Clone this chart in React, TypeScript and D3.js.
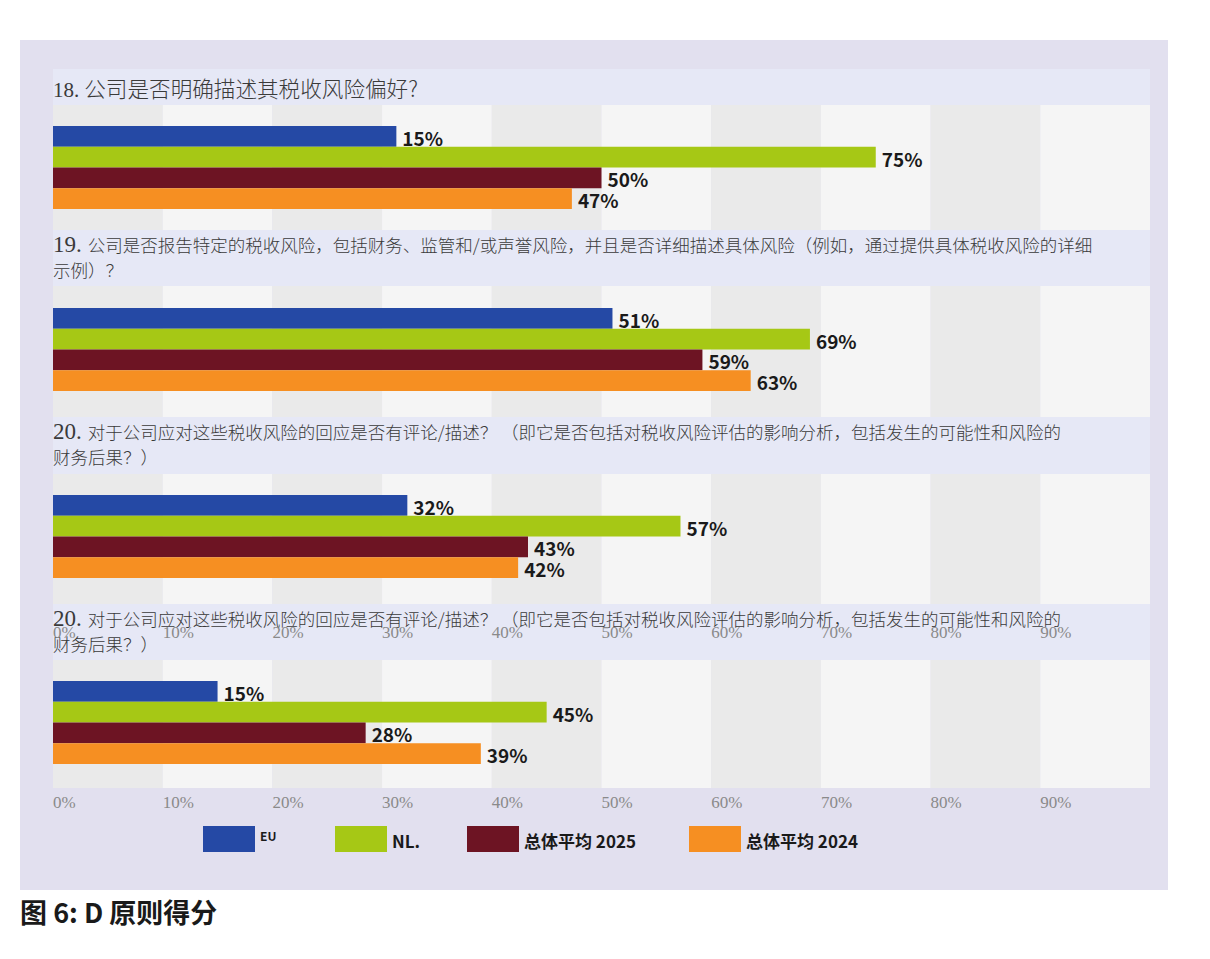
import React from 'react';
import * as d3 from 'd3';

// question numbers and texts (split into lines as in the picture)
const qNumbers = ['18.', '19.', '20.', '20.'];
const qLines = [
  ['公司是否明确描述其税收风险偏好?'],
  ['公司是否报告特定的税收风险，包括财务、监管和/或声誉风险，并且是否详细描述具体风险（例如，通过提供具体税收风险的详细', '示例）？'],
  ['对于公司应对这些税收风险的回应是否有评论/描述？ （即它是否包括对税收风险评估的影响分析，包括发生的可能性和风险的', '财务后果？）'],
  ['对于公司应对这些税收风险的回应是否有评论/描述？ （即它是否包括对税收风险评估的影响分析，包括发生的可能性和风险的', '财务后果？）'],
];

const seriesNames = ['EU', 'NL.', '总体平均 2025', '总体平均 2024'];

const euValues = [31.3, 51, 32.3, 15];
const euLabels = ['15%', '51%', '32%', '15%'];
const nlValues = [75, 69, 57.2, 45];
const nlLabels = ['75%', '69%', '57%', '45%'];
const avg2025Values = [50, 59.2, 43.3, 28.5];
const avg2025Labels = ['50%', '59%', '43%', '28%'];
const avg2024Values = [47.3, 63.6, 42.4, 39];
const avg2024Labels = ['47%', '63%', '42%', '39%'];

const tickValues = [0, 10, 20, 30, 40, 50, 60, 70, 80, 90];
const tickLabels = ['0%', '10%', '20%', '30%', '40%', '50%', '60%', '70%', '80%', '90%'];

const caption = '图 6: D 原则得分';

const colors = ['#2549a5', '#a6c815', '#6d1423', '#f68f22'];

const serif = '"Liberation Serif", "Noto Sans CJK SC", serif';
const cjk = '"Noto Sans CJK SC", "Noto Sans", sans-serif';

export default function App() {
  const x = d3.scaleLinear().domain([0, 100]).range([53, 1150]);

  const values = [euValues, nlValues, avg2025Values, avg2024Values];
  const labels = [euLabels, nlLabels, avg2025Labels, avg2024Labels];

  // panel layout: header band top, plot top, plot bottom
  const headerTop = [69, 230, 417, 604];
  const plotTop = [105, 286, 474, 660];
  const plotBottom = [230, 417, 604, 788];
  const barOffset = [21, 22, 21, 21];

  const legendX = [203, 335, 467, 689];

  return (
    <svg width={1210} height={959} style={{ position: 'absolute', left: 0, top: 0 }}>
      <rect x={20} y={40} width={1148} height={850} fill="#e2e0ef" />

      {qNumbers.map((num, i) => {
        const band = d3
          .scaleBand<string>()
          .domain(seriesNames)
          .range([plotTop[i] + barOffset[i], plotTop[i] + barOffset[i] + 83])
          .padding(0);
        const single = qLines[i].length === 1;
        return (
          <g key={i}>
            <rect x={x(0)} y={headerTop[i]} width={x(100) - x(0)} height={plotTop[i] - headerTop[i]} fill="#e6e8f6" />
            {tickValues.map((t, j) => (
              <rect
                key={t}
                x={x(t)}
                y={plotTop[i]}
                width={x(t + 10) - x(t)}
                height={plotBottom[i] - plotTop[i]}
                fill={j % 2 === 0 ? '#eaeaea' : '#f5f5f5'}
              />
            ))}
            <text
              x={x(0)}
              y={headerTop[i] + (single ? 28 : 22)}
              fill="#3a3a3a"
              fontFamily={serif}
              fontWeight={300}
              fontSize={single ? 21 : 23}
            >
              {num}
              <tspan dx={single ? 5 : 6} fontFamily={cjk} fontSize={single ? 21.6 : 17.5} fontWeight={300}>
                {qLines[i][0]}
              </tspan>
            </text>
            {qLines[i].slice(1).map((line, k) => (
              <text
                key={k}
                x={x(0)}
                y={headerTop[i] + 47 + k * 26}
                fill="#3a3a3a"
                fontFamily={cjk}
                fontWeight={300}
                fontSize={17.5}
              >
                {line}
              </text>
            ))}
            {seriesNames.map((s, k) => (
              <g key={s}>
                <rect
                  x={x(0)}
                  y={band(s)}
                  width={x(values[k][i]) - x(0)}
                  height={band.bandwidth()}
                  fill={colors[k]}
                />
                <text
                  x={x(values[k][i]) + 6}
                  y={(band(s) as number) + band.bandwidth() - 1}
                  fill="#1a1a1a"
                  fontFamily={cjk}
                  fontWeight={700}
                  fontSize={19}
                >
                  {labels[k][i]}
                </text>
              </g>
            ))}
          </g>
        );
      })}

      {/* axis labels: the duplicated one over the last header, and the real one below */}
      {[638, 808].map((yy) => (
        <g key={yy}>
          {tickValues.map((t, j) => (
            <text key={t} x={x(t)} y={yy} fill="#8a8a8a" fontFamily={serif} fontWeight={300} fontSize={17}>
              {tickLabels[j]}
            </text>
          ))}
        </g>
      ))}

      {seriesNames.map((s, k) => (
        <g key={s}>
          <rect x={legendX[k]} y={826} width={52} height={26} fill={colors[k]} />
          <text
            x={legendX[k] + 57}
            y={k === 0 ? 841 : 848}
            fill="#1a1a1a"
            fontFamily={cjk}
            fontWeight={700}
            fontSize={k === 0 ? 12 : 17}
          >
            {s}
          </text>
        </g>
      ))}

      <text x={20} y={923} fill="#1a1a1a" fontFamily={cjk} fontWeight={700} fontSize={27}>
        {caption}
      </text>
    </svg>
  );
}
